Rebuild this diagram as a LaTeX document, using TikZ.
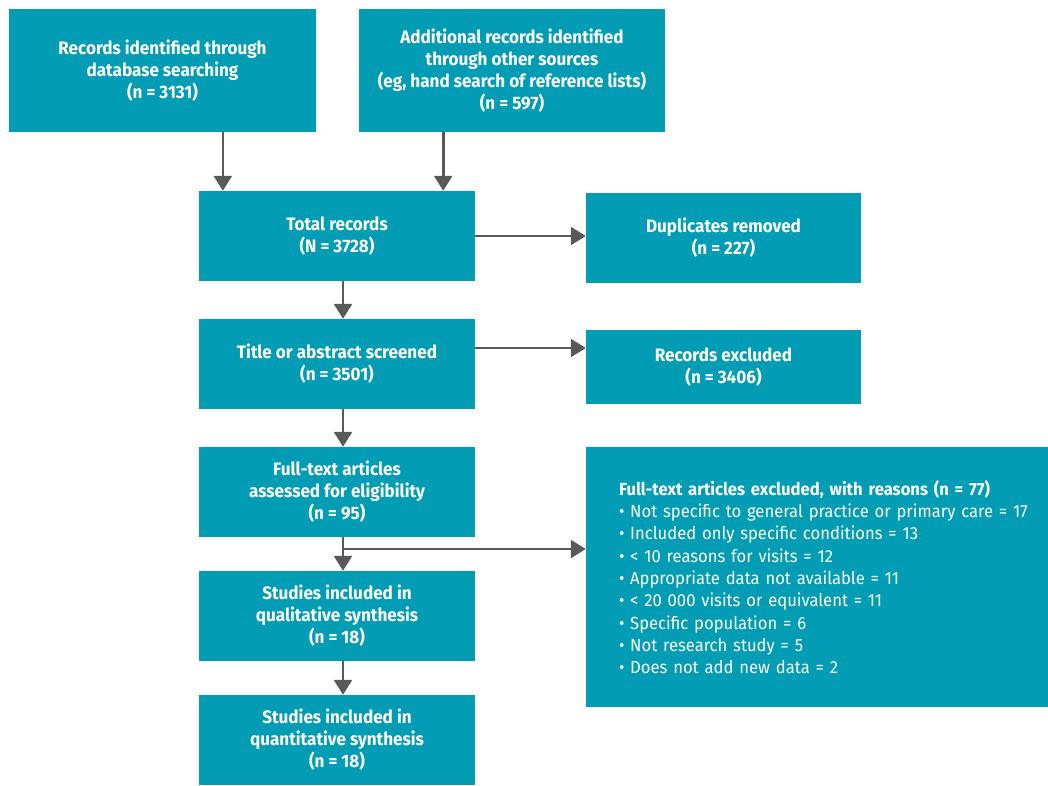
\documentclass[tikz,border=0pt]{standalone}
\usepackage{fontspec}
\setmainfont{Fira Sans}[FakeStretch=0.95]
\usetikzlibrary{arrows.meta}
\definecolor{boxteal}{HTML}{029DB4}
\definecolor{arrgray}{HTML}{58595B}
\tikzset{
  box/.style={fill=boxteal, text=white, font=\bfseries\fontsize{18}{22}\selectfont,
    align=center, inner sep=0pt},
  flow/.style={draw=arrgray, line width=2.6pt, -{Triangle[length=15pt,width=18pt]}},
}

\begin{document}
\begin{tikzpicture}[x=1pt,y=-1pt]
	\useasboundingbox (0,0) rectangle (1048,785);
	
	% identification
	\node[box, minimum width=307pt, minimum height=123pt] (recA) at (162.5,70.5)
		{Records identified through\\database searching\\(n = 3131)};
	\node[box, minimum width=306pt, minimum height=123pt] (recB) at (512,70.5)
		{Additional records identified\\through other sources\\(eg, hand search of reference lists)\\(n = 597)};
	
	% screening
	\node[box, minimum width=276pt, minimum height=90pt] (total) at (337,236)
		{Total records\\(N = 3728)};
	\node[box, minimum width=275pt, minimum height=90pt] (dupl) at (723.5,238)
		{Duplicates removed\\(n = 227)};
	\node[box, minimum width=276pt, minimum height=90pt] (screen) at (337,364)
		{Title or abstract screened\\(n = 3501)};
	\node[box, minimum width=275pt, minimum height=74pt] (recex) at (723.5,367)
		{Records excluded\\(n = 3406)};
	
	% eligibility and inclusion
	\node[box, minimum width=276pt, minimum height=90pt] (fulltext) at (337,492)
		{Full-text articles\\assessed for eligibility\\(n = 95)};
	\node[box, minimum width=462pt, minimum height=260pt, inner xsep=12pt, text width=438pt,
		align=left, font=\fontsize{17.5}{22.3}\selectfont] (reasons) at (817,577)
		{\leftskip=21pt\textbf{Full-text articles excluded, with reasons (n = 77)}\\
		• Not specific to general practice or primary care = 17\\
		• Included only specific conditions = 13\\
		• < 10 reasons for visits = 12\\
		• Appropriate data not available = 11\\
		• < 20 000 visits or equivalent = 11\\
		• Specific population = 6\\
		• Not research study = 5\\
		• Does not add new data = 2\par};
	\node[box, minimum width=276pt, minimum height=90pt] (qual) at (337,616)
		{Studies included in\\qualitative synthesis\\(n = 18)};
	\node[box, minimum width=276pt, minimum height=90pt] (quant) at (337,740)
		{Studies included in\\quantitative synthesis\\(n = 18)};
	
	\draw[flow] ([xshift=24pt]total.north west |- recA.south) -- ([xshift=24pt]total.north west);
	\draw[flow] ([xshift=-32pt]total.north east |- recB.south) -- ([xshift=-32pt]total.north east);
	\draw[flow] (total.east |- 0,236) -- (dupl.west |- 0,236);
	\draw[flow] ([xshift=6pt]total.south) -- ([xshift=6pt]screen.north);
	\draw[flow] (screen.east |- 0,348) -- (recex.west |- 0,348);
	\draw[flow] ([xshift=6pt]screen.south) -- ([xshift=6pt]fulltext.north);
	\draw[flow] ([xshift=6pt]fulltext.south) -- ([xshift=6pt]qual.north);
	\coordinate (split) at ([xshift=6pt]fulltext.south |- 0,549);
	\draw[flow] ([xshift=-1.3pt]split) -- (reasons.west |- split);
	\draw[flow] ([xshift=6pt]qual.south) -- ([xshift=6pt]quant.north);
\end{tikzpicture}
\end{document}
